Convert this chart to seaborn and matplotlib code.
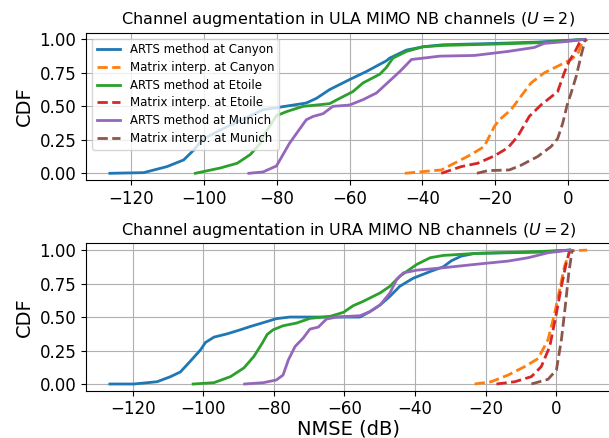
"""
CDF of NMSE for channel augmentation (ULA / URA MIMO NB channels)
"""

import numpy as np
import pandas as pd
import matplotlib
matplotlib.use("Agg")
import matplotlib.pyplot as plt
import seaborn as sns

# ---- ULA, U=2 (top panel) ----
ula_arts_canyon_x = [-125.9, -116.6, -110.2, -105.6, -102.8, -100.6, -96.5, -92.8, -88.0, -83.8,
                     -80.1, -71.9, -69.1, -65.5, -60.0, -55.4, -49.9, -49.0, -44.4, -39.8,
                     -34.3, -20.0, -8.3, 4.6]
ula_arts_canyon_cdf = [0.0, 0.005, 0.05, 0.10, 0.175, 0.25, 0.31, 0.36, 0.42, 0.475,
                       0.49, 0.525, 0.56, 0.625, 0.70, 0.76, 0.84, 0.86, 0.92, 0.945,
                       0.96, 0.97, 0.98, 1.0]

ula_matrix_canyon_x = [-44.8, -37.0, -34.8, -31.2, -26.6, -23.0, -20.2, -18.8, -15.6, -12.9,
                       -10.1, -6.5, -2.8, 0.9, 2.7, 4.1, 5.0]
ula_matrix_canyon_cdf = [0.0, 0.02, 0.025, 0.075, 0.14, 0.20, 0.35, 0.40, 0.475, 0.575,
                         0.675, 0.75, 0.80, 0.85, 0.89, 0.99, 1.0]

ula_arts_etoile_x = [-102.4, -95.5, -90.9, -87.3, -84.5, -83.8, -80.1, -77.4, -72.8, -65.5,
                     -62.7, -59.1, -56.3, -51.7, -49.9, -48.1, -44.4, -39.8, -34.3, -20.0,
                     -8.3, 4.6]
ula_arts_etoile_cdf = [0.0, 0.04, 0.075, 0.14, 0.225, 0.275, 0.43, 0.46, 0.50, 0.52,
                       0.56, 0.61, 0.675, 0.74, 0.79, 0.86, 0.91, 0.945, 0.955, 0.965,
                       0.975, 1.0]

ula_matrix_etoile_x = [-34.8, -29.3, -24.8, -20.2, -16.5, -13.8, -10.6, -7.4, -2.8, -1.0,
                       0.4, 1.8, 3.2, 4.1]
ula_matrix_etoile_cdf = [0.0, 0.05, 0.075, 0.13, 0.19, 0.275, 0.425, 0.51, 0.61, 0.75,
                         0.84, 0.90, 0.975, 1.0]

ula_arts_munich_x = [-87.7, -83.8, -80.1, -76.5, -71.9, -70.0, -67.3, -64.6, -60.0, -56.3,
                     -52.6, -49.0, -46.2, -44.4, -43.0, -39.8, -35.2, -25.7, -16.5, -9.2,
                     -6.5, 0.0, 4.5]
ula_arts_munich_cdf = [0.0, 0.01, 0.055, 0.225, 0.40, 0.425, 0.445, 0.50, 0.51, 0.55,
                       0.60, 0.69, 0.76, 0.81, 0.85, 0.86, 0.875, 0.88, 0.91, 0.94,
                       0.97, 0.985, 1.0]

ula_matrix_munich_x = [-25.0, -22.0, -16.1, -12.9, -8.3, -4.6, -2.8, -1.4, -0.2, 0.9,
                       2.3, 3.6, 4.7, 5.3]
ula_matrix_munich_cdf = [0.0, 0.02, 0.025, 0.06, 0.125, 0.20, 0.26, 0.375, 0.51, 0.60,
                         0.725, 0.875, 0.99, 1.0]

# ---- URA, U=2 (bottom panel) ----
ura_arts_canyon_x = [-126.5, -119.7, -113.1, -109.3, -106.5, -103.7, -100.8, -99.4, -97.0, -93.2,
                     -89.5, -86.6, -81.9, -79.3, -75.5, -55.6, -52.8, -49.9, -47.1, -44.3,
                     -40.5, -35.7, -32.0, -29.7, -26.9, -23.1, -4.2, 3.9]
ura_arts_canyon_cdf = [0.0, 0.0, 0.017, 0.055, 0.09, 0.17, 0.255, 0.31, 0.35, 0.375,
                       0.405, 0.43, 0.467, 0.488, 0.50, 0.50, 0.54, 0.59, 0.655, 0.73,
                       0.79, 0.84, 0.875, 0.92, 0.955, 0.975, 0.985, 1.0]

ura_matrix_canyon_x = [-23.1, -18.4, -13.6, -8.9, -5.1, -2.3, -0.4, 1.0, 2.4, 3.9, 8.8]
ura_matrix_canyon_cdf = [0.0, 0.017, 0.067, 0.13, 0.19, 0.33, 0.53, 0.705, 0.88, 0.995, 1.0]

ura_arts_etoile_x = [-102.9, -97.0, -92.3, -88.5, -85.7, -83.3, -81.9, -80.2, -77.4, -73.6,
                     -69.8, -64.1, -60.3, -57.5, -54.7, -49.9, -47.1, -44.3, -39.5, -35.7,
                     -32.0, -23.1, -4.2, 3.9]
ura_arts_etoile_cdf = [0.0, 0.01, 0.055, 0.12, 0.205, 0.305, 0.37, 0.405, 0.435, 0.455,
                       0.49, 0.505, 0.535, 0.585, 0.617, 0.68, 0.73, 0.805, 0.893, 0.943,
                       0.96, 0.975, 0.99, 1.0]

ura_matrix_etoile_x = [-16.9, -11.7, -7.0, -4.2, -1.8, 0.1, 1.5, 2.9, 3.9]
ura_matrix_etoile_cdf = [0.0, 0.017, 0.055, 0.13, 0.28, 0.53, 0.73, 0.905, 1.0]

ura_arts_munich_x = [-88.3, -83.0, -79.3, -77.4, -75.9, -74.0, -71.7, -69.8, -67.4, -65.1,
                     -62.2, -55.6, -52.8, -49.9, -47.1, -45.2, -43.3, -39.5, -32.0, -23.1,
                     -13.6, -7.9, -2.3, 3.9]
ura_arts_munich_cdf = [0.0, 0.01, 0.03, 0.067, 0.18, 0.28, 0.343, 0.41, 0.425, 0.485,
                       0.50, 0.51, 0.54, 0.59, 0.68, 0.78, 0.83, 0.85, 0.868, 0.893,
                       0.918, 0.943, 0.98, 1.0]

ura_matrix_munich_x = [-7.0, -2.3, 0.1, 1.5, 2.6, 3.6, 4.5, 5.0]
ura_matrix_munich_cdf = [0.0, 0.035, 0.105, 0.33, 0.58, 0.83, 0.99, 1.0]

labels = ["ARTS method at Canyon", "Matrix interp. at Canyon",
          "ARTS method at Etoile", "Matrix interp. at Etoile",
          "ARTS method at Munich", "Matrix interp. at Munich"]
titles = ["Channel augmentation in ULA MIMO NB channels ($U=2$)",
          "Channel augmentation in URA MIMO NB channels ($U=2$)"]

ula_series = [(ula_arts_canyon_x, ula_arts_canyon_cdf), (ula_matrix_canyon_x, ula_matrix_canyon_cdf),
              (ula_arts_etoile_x, ula_arts_etoile_cdf), (ula_matrix_etoile_x, ula_matrix_etoile_cdf),
              (ula_arts_munich_x, ula_arts_munich_cdf), (ula_matrix_munich_x, ula_matrix_munich_cdf)]
ura_series = [(ura_arts_canyon_x, ura_arts_canyon_cdf), (ura_matrix_canyon_x, ura_matrix_canyon_cdf),
              (ura_arts_etoile_x, ura_arts_etoile_cdf), (ura_matrix_etoile_x, ura_matrix_etoile_cdf),
              (ura_arts_munich_x, ura_arts_munich_cdf), (ura_matrix_munich_x, ura_matrix_munich_cdf)]

colors = sns.color_palette("tab10", 6)


def draw_panel(ax, series, title, with_legend):
    for i, (xs, cdf) in enumerate(series):
        df = pd.DataFrame({"NMSE": xs, "CDF": cdf})
        sns.lineplot(data=df, x="NMSE", y="CDF", ax=ax, color=colors[i],
                     linestyle="--" if i % 2 else "-", linewidth=2,
                     estimator=None, sort=False,
                     label=labels[i] if with_legend else None)
    ax.grid(True)
    ax.set_yticks([0.0, 0.25, 0.5, 0.75, 1.0])
    ax.set_xticks(np.arange(-120, 1, 20))
    ax.tick_params(labelsize=12)
    ax.set_title(title, fontsize=11.5)
    ax.set_ylabel("CDF", fontsize=14)
    ax.set_xlabel("")


fig = plt.figure(figsize=(6.09, 4.38), dpi=100)
ax_top = fig.add_axes([86 / 609, 258 / 438, 525 / 609, 147.3 / 438])
ax_bot = fig.add_axes([86 / 609, 47.3 / 438, 525 / 609, 147.3 / 438])

draw_panel(ax_top, ula_series, titles[0], True)
draw_panel(ax_bot, ura_series, titles[1], False)

ax_top.legend(loc="upper left", fontsize=8.5, labelspacing=0.4)
ax_bot.set_xlabel("NMSE (dB)", fontsize=14, labelpad=0.5)

fig.savefig("out.png", dpi=100)
